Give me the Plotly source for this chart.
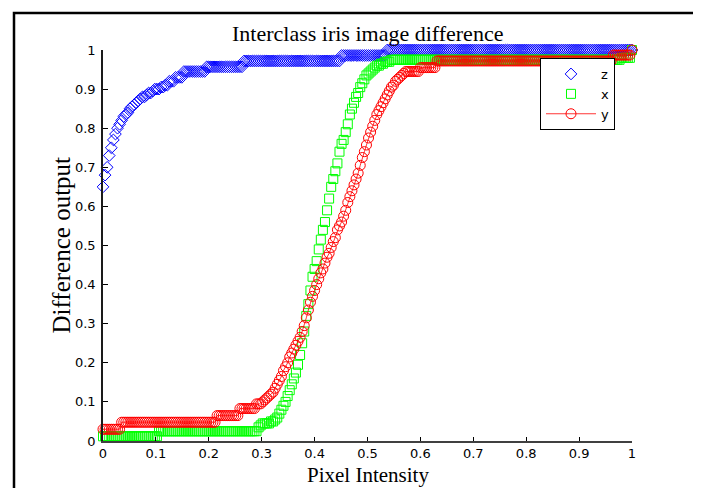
import plotly.graph_objects as go

# ---------------- data ----------------
levels = list(range(256))          # pixel intensity levels 0..255 (plotted as level/255)

z_vals = [
    0.65, 0.68, 0.70, 0.73, 0.75, 0.77, 0.785, 0.80, 0.81, 0.82, 0.83, 0.835, 0.84, 0.85, 0.855, 0.86,
    0.865, 0.87, 0.875, 0.88, 0.88, 0.885, 0.89, 0.89, 0.895, 0.90, 0.90, 0.90, 0.905, 0.905, 0.91, 0.91,
    0.92, 0.92, 0.92, 0.93, 0.93, 0.93, 0.93, 0.945, 0.945, 0.945, 0.945, 0.945, 0.945, 0.945, 0.945, 0.945,
    0.945, 0.945, 0.957, 0.957, 0.957, 0.957, 0.957, 0.957, 0.957, 0.957, 0.957, 0.957, 0.957, 0.957, 0.957, 0.957,
    0.957, 0.957, 0.957, 0.957, 0.972, 0.972, 0.972, 0.972, 0.972, 0.972, 0.972, 0.972, 0.972, 0.972, 0.972, 0.972,
    0.972, 0.972, 0.972, 0.972, 0.972, 0.972, 0.972, 0.972, 0.972, 0.972, 0.972, 0.972, 0.972, 0.972, 0.972, 0.972,
    0.972, 0.972, 0.972, 0.972, 0.972, 0.972, 0.972, 0.972, 0.972, 0.972, 0.972, 0.972, 0.972, 0.972, 0.972, 0.972,
    0.972, 0.972, 0.972, 0.986, 0.986, 0.986, 0.986, 0.986, 0.986, 0.986, 0.986, 0.986, 0.986, 0.986, 0.986, 0.986,
    0.986, 0.986, 0.986, 0.986, 0.986, 0.986, 0.986, 0.986, 0.986, 1, 1, 1, 1, 1, 1, 1,
    1, 1, 1, 1, 1, 1, 1, 1, 1, 1, 1, 1, 1, 1, 1, 1,
    1, 1, 1, 1, 1, 1, 1, 1, 1, 1, 1, 1, 1, 1, 1, 1,
    1, 1, 1, 1, 1, 1, 1, 1, 1, 1, 1, 1, 1, 1, 1, 1,
    1, 1, 1, 1, 1, 1, 1, 1, 1, 1, 1, 1, 1, 1, 1, 1,
    1, 1, 1, 1, 1, 1, 1, 1, 1, 1, 1, 1, 1, 1, 1, 1,
    1, 1, 1, 1, 1, 1, 1, 1, 1, 1, 1, 1, 1, 1, 1, 1,
    1, 1, 1, 1, 1, 1, 1, 1, 1, 1, 1, 1, 1, 1, 1, 1,
]

x_vals = [
    0.012, 0.012, 0.012, 0.012, 0.012, 0.012, 0.012, 0.012, 0.012, 0.012, 0.012, 0.012, 0.012, 0.012, 0.012, 0.012,
    0.012, 0.012, 0.012, 0.012, 0.012, 0.012, 0.012, 0.012, 0.012, 0.012, 0.012, 0.025, 0.025, 0.025, 0.025, 0.025,
    0.025, 0.025, 0.025, 0.025, 0.025, 0.025, 0.025, 0.025, 0.025, 0.025, 0.025, 0.025, 0.025, 0.025, 0.025, 0.025,
    0.025, 0.025, 0.025, 0.025, 0.025, 0.025, 0.025, 0.025, 0.025, 0.025, 0.025, 0.025, 0.025, 0.025, 0.025, 0.025,
    0.025, 0.025, 0.025, 0.025, 0.025, 0.025, 0.025, 0.025, 0.025, 0.025, 0.025, 0.035, 0.04, 0.045, 0.045, 0.045,
    0.045, 0.05, 0.05, 0.055, 0.06, 0.07, 0.08, 0.09, 0.10, 0.115, 0.13, 0.145, 0.16, 0.175, 0.195, 0.22,
    0.25, 0.28, 0.32, 0.35, 0.385, 0.42, 0.44, 0.46, 0.49, 0.515, 0.54, 0.56, 0.59, 0.62, 0.65, 0.67,
    0.69, 0.71, 0.74, 0.76, 0.77, 0.79, 0.81, 0.835, 0.85, 0.865, 0.88, 0.89, 0.905, 0.915, 0.925, 0.935,
    0.94, 0.945, 0.95, 0.955, 0.96, 0.96, 0.965, 0.965, 0.97, 0.97, 0.97, 0.975, 0.975, 0.975, 0.975, 0.975,
    0.975, 0.975, 0.975, 0.975, 0.975, 0.975, 0.975, 0.975, 0.975, 0.975, 0.975, 0.975, 0.975, 0.975, 0.975, 0.975,
    0.975, 0.975, 0.975, 0.975, 0.975, 0.975, 0.975, 0.975, 0.975, 0.975, 0.975, 0.975, 0.975, 0.975, 0.975, 0.975,
    0.975, 0.975, 0.975, 0.975, 0.975, 0.975, 0.975, 0.975, 0.975, 0.975, 0.975, 0.975, 0.975, 0.975, 0.975, 0.975,
    0.975, 0.975, 0.975, 0.975, 0.975, 0.975, 0.975, 0.975, 0.975, 0.975, 0.975, 0.975, 0.975, 0.975, 0.975, 0.975,
    0.975, 0.975, 0.975, 0.975, 0.975, 0.975, 0.975, 0.975, 0.975, 0.975, 0.975, 0.975, 0.975, 0.975, 0.975, 0.975,
    0.975, 0.975, 0.975, 0.975, 0.975, 0.975, 0.975, 0.975, 0.975, 0.975, 0.975, 0.975, 0.975, 0.975, 0.975, 0.975,
    0.975, 0.975, 0.975, 0.975, 0.975, 0.975, 0.975, 0.975, 0.975, 0.975, 0.98, 0.98, 0.98, 0.98, 0.98, 1,
]

y_vals = [
    0.03, 0.03, 0.03, 0.03, 0.03, 0.03, 0.03, 0.03, 0.03, 0.048, 0.048, 0.048, 0.048, 0.048, 0.048, 0.048,
    0.048, 0.048, 0.048, 0.048, 0.048, 0.048, 0.048, 0.048, 0.048, 0.048, 0.048, 0.048, 0.048, 0.048, 0.048, 0.048,
    0.048, 0.048, 0.048, 0.048, 0.048, 0.048, 0.048, 0.048, 0.048, 0.048, 0.048, 0.048, 0.048, 0.048, 0.048, 0.048,
    0.048, 0.048, 0.048, 0.048, 0.048, 0.048, 0.048, 0.065, 0.065, 0.065, 0.065, 0.065, 0.065, 0.065, 0.065, 0.065,
    0.065, 0.065, 0.083, 0.083, 0.083, 0.083, 0.083, 0.083, 0.083, 0.083, 0.095, 0.095, 0.095, 0.10, 0.105, 0.11,
    0.115, 0.12, 0.125, 0.135, 0.145, 0.155, 0.165, 0.18, 0.19, 0.20, 0.215, 0.225, 0.235, 0.245, 0.255, 0.265,
    0.28, 0.295, 0.315, 0.335, 0.355, 0.37, 0.385, 0.40, 0.415, 0.43, 0.44, 0.455, 0.47, 0.48, 0.495, 0.51,
    0.52, 0.54, 0.55, 0.56, 0.575, 0.59, 0.61, 0.625, 0.64, 0.655, 0.67, 0.685, 0.705, 0.725, 0.74, 0.757,
    0.775, 0.79, 0.805, 0.82, 0.835, 0.845, 0.855, 0.865, 0.875, 0.885, 0.895, 0.905, 0.91, 0.92, 0.925, 0.93,
    0.935, 0.94, 0.945, 0.945, 0.945, 0.945, 0.945, 0.945, 0.945, 0.955, 0.955, 0.955, 0.955, 0.955, 0.955, 0.955,
    0.955, 0.972, 0.972, 0.972, 0.972, 0.972, 0.972, 0.972, 0.972, 0.972, 0.972, 0.972, 0.972, 0.972, 0.972, 0.972,
    0.972, 0.972, 0.972, 0.972, 0.972, 0.972, 0.972, 0.972, 0.972, 0.972, 0.972, 0.972, 0.972, 0.972, 0.972, 0.972,
    0.972, 0.972, 0.972, 0.972, 0.972, 0.972, 0.972, 0.972, 0.972, 0.972, 0.972, 0.972, 0.972, 0.972, 0.972, 0.972,
    0.972, 0.972, 0.972, 0.972, 0.972, 0.972, 0.972, 0.972, 0.972, 0.972, 0.972, 0.972, 0.972, 0.972, 0.972, 0.972,
    0.972, 0.972, 0.972, 0.972, 0.972, 0.972, 0.972, 0.972, 0.972, 0.972, 0.972, 0.972, 0.972, 0.972, 0.972, 0.972,
    0.972, 0.972, 0.972, 0.972, 0.972, 0.972, 0.987, 0.987, 0.987, 0.987, 0.987, 0.987, 0.987, 0.987, 0.987, 1,
]

series_names = ["z", "x", "y"]
tick_vals = [0, 0.1, 0.2, 0.3, 0.4, 0.5, 0.6, 0.7, 0.8, 0.9, 1]
tick_labels = ["0", "0.1", "0.2", "0.3", "0.4", "0.5", "0.6", "0.7", "0.8", "0.9", "1"]

assert len(z_vals) == 256 and len(x_vals) == 256 and len(y_vals) == 256, (len(z_vals), len(x_vals), len(y_vals))

intensity = [v / 255 for v in levels]

SERIF = "Liberation Serif"
SANS = "DejaVu Sans"

fig = go.Figure()
fig.add_trace(go.Scatter(
    x=intensity, y=z_vals, name=series_names[0], mode="markers", cliponaxis=False,
    marker=dict(symbol="diamond-open", size=9, color="#0000ff", line=dict(width=1, color="#0000ff")),
))
fig.add_trace(go.Scatter(
    x=intensity, y=x_vals, name=series_names[1], mode="markers", cliponaxis=False,
    marker=dict(symbol="square-open", size=9, color="#00ff00", line=dict(width=1, color="#00ff00")),
))
fig.add_trace(go.Scatter(
    x=intensity, y=y_vals, name=series_names[2], mode="lines+markers", cliponaxis=False,
    line=dict(color="#ff0000", width=0.8),
    marker=dict(symbol="circle-open", size=10, color="#ff0000", line=dict(width=1, color="#ff0000")),
))

# the page body has an 8px margin, so figure pixels = page pixels - 8
OFF = 8
W, H = 701 - OFF, 488 - OFF
L, R, T, B = 103 - OFF, 69, 50 - OFF, 47
pw, ph = W - L - R, H - T - B


def px_x(p):
    return (p - OFF - L) / pw


def px_y(p):
    return (H - B - (p - OFF)) / ph


fig.update_layout(
    width=W, height=H,
    margin=dict(l=L, r=R, t=T, b=B, pad=0),
    paper_bgcolor="white", plot_bgcolor="white",
    showlegend=True,
    legend=dict(
        x=px_x(540), y=px_y(58), xanchor="left", yanchor="top",
        bgcolor="white", bordercolor="black", borderwidth=1,
        font=dict(family=SANS, size=13, color="black"),
        tracegroupgap=0, itemwidth=50,
    ),
    xaxis=dict(
        range=[0, 1], tickvals=tick_vals, ticktext=tick_labels,
        ticks="inside", ticklen=4, tickwidth=1, tickcolor="black",
        showline=True, linecolor="#404040", linewidth=1.5,
        showgrid=False, zeroline=False, mirror=False,
        tickfont=dict(family=SANS, size=13, color="black"),
    ),
    yaxis=dict(
        range=[0, 1], tickvals=tick_vals, ticktext=tick_labels,
        ticks="inside", ticklen=5, tickwidth=1, tickcolor="black",
        showline=True, linecolor="#1a1a1a", linewidth=1.5,
        showgrid=False, zeroline=False, mirror=False,
        tickfont=dict(family=SANS, size=13, color="black"),
        ticklabelstandoff=3,
    ),
    annotations=[
        dict(text="Interclass iris image difference", x=0.5, y=px_y(33), xref="paper", yref="paper",
             xanchor="center", yanchor="middle", showarrow=False,
             font=dict(family=SERIF, size=22, color="black")),
        dict(text="Difference output", x=px_x(61), y=0.5, xref="paper", yref="paper",
             xanchor="center", yanchor="middle", showarrow=False, textangle=-90,
             font=dict(family=SERIF, size=25, color="black")),
        dict(text="Pixel Intensity", x=0.5, y=px_y(475), xref="paper", yref="paper",
             xanchor="center", yanchor="middle", showarrow=False,
             font=dict(family=SERIF, size=21, color="black")),
    ],
    shapes=[
        dict(type="rect", xref="paper", yref="paper",
             x0=px_x(14), x1=px_x(695), y0=px_y(500), y1=px_y(13),
             line=dict(color="black", width=2.5), fillcolor="rgba(0,0,0,0)", layer="above"),
    ],
)

fig.write_html("out.html")
